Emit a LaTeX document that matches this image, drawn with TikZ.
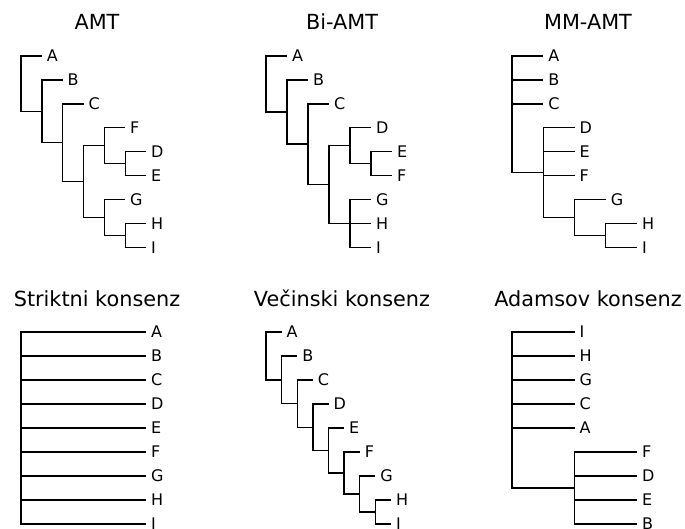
\documentclass[tikz,border=0pt]{standalone}
\usepackage{fontspec}
\setmainfont{DejaVu Sans}
\newcommand\lffont{\fontsize{16}{16}\selectfont}
\newcommand\ttlfont{\fontsize{20.8}{21}\selectfont}
\tikzset{
  br/.style={line width=1.4pt, line join=miter},
  leaf/.style={anchor=west, inner sep=0pt, outer xsep=5pt, outer ysep=0pt, font=\lffont, text height=11.7pt, text depth=0pt},
  ttl/.style={anchor=base, font=\ttlfont, inner sep=0pt}
}
\begin{document}
\begin{tikzpicture}[x=1pt,y=-1pt]
\useasboundingbox (0,0) rectangle (685,528);

% ---------- titles ----------
\node[ttl] (t1) at (97,29.3) {AMT};
\node[ttl] (t2) at (342,29.3) {Bi-AMT};
\node[ttl] (t3) at (588,29.3) {MM-AMT};
\node[ttl] (t4) at (97,306) {Striktni konsenz};
\node[ttl] (t5) at (342,306) {Večinski konsenz};
\node[ttl] (t6) at (588,306) {Adamsov konsenz};

% ---------- AMT ----------
\node[leaf] (aA) at (41.8,56) {A};
\node[leaf] (aB) at (62.7,79.9) {B};
\node[leaf] (aC) at (83.5,103.8) {C};
\node[leaf] (aF) at (125.2,127.7) {F};
\node[leaf] (aD) at (146,151.6) {D};
\node[leaf] (aE) at (146,175.5) {E};
\node[leaf] (aG) at (125.2,199.4) {G};
\node[leaf] (aH) at (146,223.3) {H};
\node[leaf] (aI) at (146,247.2) {I};
\coordinate (aDE) at (125.2,163.55);
\coordinate (aFDE) at (104.3,145.6);
\coordinate (aHI) at (125.2,235.25);
\coordinate (aGHI) at (104.3,217.3);
\coordinate (aBig) at (83.5,181.45);
\coordinate (aNC) at (62.7,142.6);
\coordinate (aNB) at (41.8,111.25);
\coordinate (aR) at (21,83.6);
\draw[br] (aR) |- (aA.west);
\draw[br] (aR) |- (aNB);
\draw[br] (aNB) |- (aB.west);
\draw[br] (aNB) |- (aNC);
\draw[br] (aNC) |- (aC.west);
\draw[br] (aNC) |- (aBig);
\draw[br] (aBig) |- (aFDE);
\draw[br] (aBig) |- (aGHI);
\draw[br] (aFDE) |- (aF.west);
\draw[br] (aFDE) |- (aDE);
\draw[br] (aDE) |- (aD.west);
\draw[br] (aDE) |- (aE.west);
\draw[br] (aGHI) |- (aG.west);
\draw[br] (aGHI) |- (aHI);
\draw[br] (aHI) |- (aH.west);
\draw[br] (aHI) |- (aI.west);

% ---------- Bi-AMT ----------
\node[leaf] (bA) at (287,56) {A};
\node[leaf] (bB) at (308,79.9) {B};
\node[leaf] (bC) at (329,103.8) {C};
\node[leaf] (bD) at (371,127.7) {D};
\node[leaf] (bE) at (392,151.6) {E};
\node[leaf] (bF) at (392,175.5) {F};
\node[leaf] (bG) at (371,199.4) {G};
\node[leaf] (bH) at (371,223.3) {H};
\node[leaf] (bI) at (371,247.2) {I};
\coordinate (bEF) at (371,163.55);
\coordinate (bDEF) at (350,145.6);
\coordinate (bGHI) at (350,223.3);
\coordinate (bBig) at (329,184.45);
\coordinate (bNC) at (308,144.1);
\coordinate (bNB) at (287,112);
\coordinate (bR) at (266,84);
\draw[br] (bR) |- (bA.west);
\draw[br] (bR) |- (bNB);
\draw[br] (bNB) |- (bB.west);
\draw[br] (bNB) |- (bNC);
\draw[br] (bNC) |- (bC.west);
\draw[br] (bNC) |- (bBig);
\draw[br] (bBig) |- (bDEF);
\draw[br] (bBig) |- (bGHI);
\draw[br] (bDEF) |- (bD.west);
\draw[br] (bDEF) |- (bEF);
\draw[br] (bEF) |- (bE.west);
\draw[br] (bEF) |- (bF.west);
\draw[br] (bGHI) |- (bG.west);
\draw[br] (bGHI) |- (bH.west);
\draw[br] (bGHI) |- (bI.west);

% ---------- MM-AMT ----------
\node[leaf] (mA) at (543.25,56) {A};
\node[leaf] (mB) at (543.25,79.9) {B};
\node[leaf] (mC) at (543.25,103.8) {C};
\node[leaf] (mD) at (574.5,127.7) {D};
\node[leaf] (mE) at (574.5,151.6) {E};
\node[leaf] (mF) at (574.5,175.5) {F};
\node[leaf] (mG) at (605.75,199.4) {G};
\node[leaf] (mH) at (637,223.3) {H};
\node[leaf] (mI) at (637,247.2) {I};
\coordinate (mHI) at (605.75,235.25);
\coordinate (mGHI) at (574.5,217.3);
\coordinate (mDG) at (543.25,172.5);
\coordinate (mR) at (512,114.25);
\draw[br] (mR) |- (mA.west);
\draw[br] (mR) |- (mB.west);
\draw[br] (mR) |- (mC.west);
\draw[br] (mR) |- (mDG);
\draw[br] (mDG) |- (mD.west);
\draw[br] (mDG) |- (mE.west);
\draw[br] (mDG) |- (mF.west);
\draw[br] (mDG) |- (mGHI);
\draw[br] (mGHI) |- (mG.west);
\draw[br] (mGHI) |- (mHI);
\draw[br] (mHI) |- (mH.west);
\draw[br] (mHI) |- (mI.west);

% ---------- Striktni konsenz ----------
\coordinate (sR) at (21,428);
\foreach \l [count=\k from 0] in {A,B,C,D,E,F,G,H,I}{
  \node[leaf] (s\l) at (146,332+24*\k) {\l};
  \draw[br] (sR) |- (s\l.west);
}

% ---------- Vecinski konsenz ----------
\node[leaf] (vA) at (281.6,332) {A};
\node[leaf] (vB) at (297.25,356) {B};
\node[leaf] (vC) at (312.9,380) {C};
\node[leaf] (vD) at (328.5,404) {D};
\node[leaf] (vE) at (344.1,428) {E};
\node[leaf] (vF) at (359.75,452) {F};
\node[leaf] (vG) at (375.4,476) {G};
\node[leaf] (vH) at (391,500) {H};
\node[leaf] (vI) at (391,524) {I};
\coordinate (v7) at (375.4,512);
\coordinate (v6) at (359.75,494);
\coordinate (v5) at (344.1,473);
\coordinate (v4) at (328.5,450.5);
\coordinate (v3) at (312.9,427.25);
\coordinate (v2) at (297.25,403.6);
\coordinate (v1) at (281.6,379.8);
\coordinate (vR) at (266,355.9);
\draw[br] (vR) |- (vA.west);
\draw[br] (vR) |- (v1);
\draw[br] (v1) |- (vB.west);
\draw[br] (v1) |- (v2);
\draw[br] (v2) |- (vC.west);
\draw[br] (v2) |- (v3);
\draw[br] (v3) |- (vD.west);
\draw[br] (v3) |- (v4);
\draw[br] (v4) |- (vE.west);
\draw[br] (v4) |- (v5);
\draw[br] (v5) |- (vF.west);
\draw[br] (v5) |- (v6);
\draw[br] (v6) |- (vG.west);
\draw[br] (v6) |- (v7);
\draw[br] (v7) |- (vH.west);
\draw[br] (v7) |- (vI.west);

% ---------- Adamsov konsenz ----------
\coordinate (dR) at (512,410);
\coordinate (dN) at (574.5,488);
\foreach \l [count=\k from 0] in {I,H,G,C,A}{
  \node[leaf] (d\l) at (574.5,332+24*\k) {\l};
  \draw[br] (dR) |- (d\l.west);
}
\draw[br] (dR) |- (dN);
\foreach \l [count=\k from 0] in {F,D,E,B}{
  \node[leaf] (e\l) at (637,452+24*\k) {\l};
  \draw[br] (dN) |- (e\l.west);
}
\end{tikzpicture}
\end{document}
